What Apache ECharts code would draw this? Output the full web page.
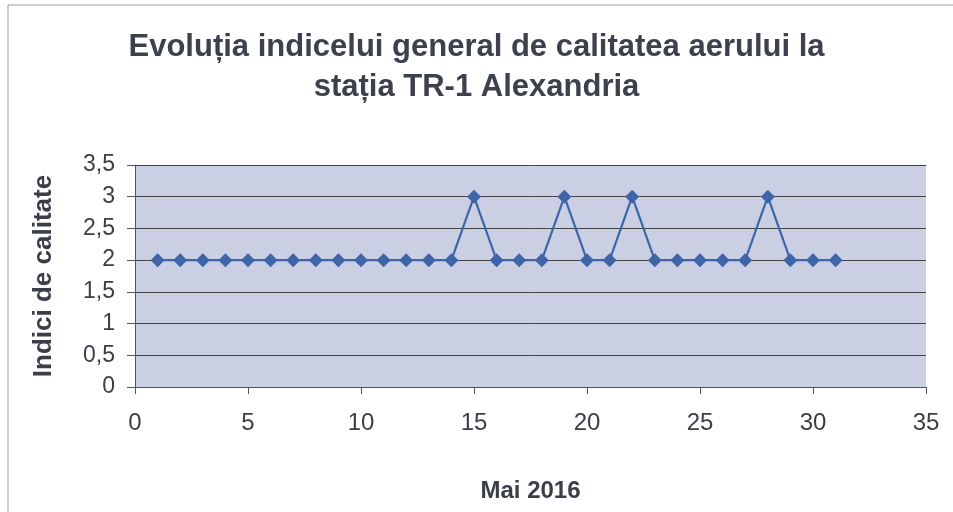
<!DOCTYPE html>
<html><head><meta charset="utf-8">
<script src="https://cdn.jsdelivr.net/npm/echarts@6/dist/echarts.min.js"></script>
<style>html,body{margin:0;padding:0;background:#fff}#c{width:953px;height:512px}</style>
</head><body><div id="c"></div>
<script>
const days = [1,2,3,4,5,6,7,8,9,10,11,12,13,14,15,16,17,18,19,20,21,22,23,24,25,26,27,28,29,30,31];
const values = [2,2,2,2,2,2,2,2,2,2,2,2,2,2,3,2,2,2,3,2,2,3,2,2,2,2,2,3,2,2,2];
const titleText = 'Evoluția indicelui general de calitatea aerului la\nstația TR-1 Alexandria';
const xTitle = 'Mai 2016';
const yTitle = 'Indici de calitate';

const chart = echarts.init(document.getElementById('c'));
const txt = '#3a3e48';
chart.setOption({
  animation:false,
  backgroundColor:'#fff',
  title:{text:titleText,left:'center',top:22,textStyle:{fontFamily:'Liberation Sans',fontWeight:'bold',fontSize:31,color:'#3c414d',lineHeight:40}},
  graphic:[{type:'rect',shape:{x:8,y:5,width:960,height:520},style:{fill:'none',stroke:'#9a9a9a',lineWidth:1},silent:true}],
  grid:{left:135,right:27,top:165,bottom:125,show:true,backgroundColor:'#cbcfe4',borderWidth:0},
  xAxis:{type:'value',min:0,max:35,interval:5,name:xTitle,nameLocation:'middle',nameGap:92,
    nameTextStyle:{fontFamily:'Liberation Sans',fontWeight:'bold',fontSize:24,color:txt},
    axisLine:{show:true,lineStyle:{color:'#555',width:1}},axisTick:{show:true,length:7,lineStyle:{color:'#555'}},
    splitLine:{show:false},
    axisLabel:{fontFamily:'Liberation Sans',fontSize:24,color:txt,margin:24}},
  yAxis:{type:'value',min:0,max:3.5,interval:0.5,name:yTitle,nameLocation:'middle',nameGap:78,nameRotate:90,
    nameTextStyle:{fontFamily:'Liberation Sans',fontWeight:'bold',fontSize:26,color:txt},
    axisLine:{show:true,lineStyle:{color:'#555',width:1}},axisTick:{show:true,length:8,inside:false,lineStyle:{color:'#555'}},
    splitLine:{show:true,lineStyle:{color:'#444',width:1}},
    axisLabel:{fontFamily:'Liberation Sans',fontSize:23,color:txt,margin:20,formatter:v=>String(v).replace('.',',')}},
  series:[{type:'line',data:days.map((d,i)=>[d,values[i]]),symbol:'diamond',symbolSize:14,
    lineStyle:{color:'#3d65a8',width:2.2},itemStyle:{color:'#3d65a8'}}]
});
</script></body></html>
